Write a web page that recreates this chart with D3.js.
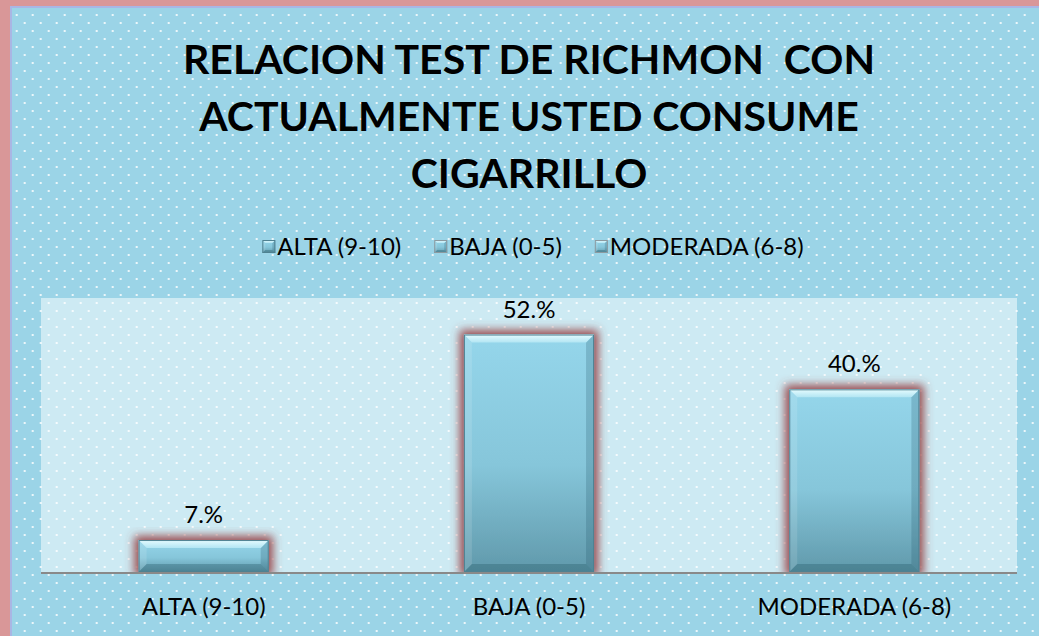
<!DOCTYPE html>
<html>
<head>
<meta charset="utf-8">
<script src="https://cdn.jsdelivr.net/npm/d3@7"></script>
<style>
  html, body { margin: 0; padding: 0; background: #fff; }
  svg { display: block; }
  text { font-family: Lato, "Open Sans", sans-serif; }
</style>
</head>
<body>
<div id="chart"></div>
<script>
// Data
const categories = ["ALTA (9-10)", "BAJA (0-5)", "MODERADA (6-8)"];
const values = [7, 52, 40];
const titleLines = ["RELACION TEST DE RICHMON  CON", "ACTUALMENTE USTED CONSUME", "CIGARRILLO"];
const yDomain = [0, 60];

const W = 1039, H = 636;
const svg = d3.select("#chart").append("svg").attr("width", W).attr("height", H);
const defs = svg.append("defs");

// Dotted background pattern
const pat = defs.append("pattern").attr("id", "dots")
  .attr("patternUnits", "userSpaceOnUse").attr("width", 16).attr("height", 16)
  .attr("x", 12.7).attr("y", 11);
pat.append("rect").attr("width", 16).attr("height", 16).attr("fill", "#9bd4e7");
pat.append("circle").attr("cx", 4).attr("cy", 4).attr("r", 1.1).attr("fill", "#ffffff");
pat.append("circle").attr("cx", 12).attr("cy", 12).attr("r", 1.1).attr("fill", "#ffffff");

// Bar body gradient
const g1 = defs.append("linearGradient").attr("id", "barFill").attr("x1", 0).attr("y1", 0).attr("x2", 0).attr("y2", 1);
g1.append("stop").attr("offset", "0%").attr("stop-color", "#95d6eb");
g1.append("stop").attr("offset", "55%").attr("stop-color", "#86c6da");
g1.append("stop").attr("offset", "100%").attr("stop-color", "#6099ab");

const gTop = defs.append("linearGradient").attr("id", "bevelTop").attr("x1", 0).attr("y1", 0).attr("x2", 0).attr("y2", 1);
gTop.append("stop").attr("offset", "0%").attr("stop-color", "#e6fcff");
gTop.append("stop").attr("offset", "100%").attr("stop-color", "#b2e5f3");

// Reddish glow around bars
const glow = defs.append("filter").attr("id", "glow")
  .attr("x", "-40%").attr("y", "-40%").attr("width", "180%").attr("height", "180%");
glow.append("feMorphology").attr("in", "SourceAlpha").attr("operator", "dilate").attr("radius", 4).attr("result", "dil");
glow.append("feGaussianBlur").attr("in", "dil").attr("stdDeviation", 5).attr("result", "blur");
glow.append("feFlood").attr("flood-color", "#984244").attr("flood-opacity", 0.95);
glow.append("feComposite").attr("in2", "blur").attr("operator", "in").attr("result", "shadow");
const merge = glow.append("feMerge");
merge.append("feMergeNode").attr("in", "shadow");
merge.append("feMergeNode").attr("in", "SourceGraphic");

// Frame
svg.append("rect").attr("width", W).attr("height", H).attr("fill", "#d99798");
svg.append("rect").attr("x", 10).attr("y", 6).attr("width", W - 10).attr("height", H - 6).attr("fill", "#a9b6e4");
svg.append("rect").attr("x", 12).attr("y", 8).attr("width", W - 12).attr("height", H - 8).attr("fill", "url(#dots)");

// Title
const title = svg.append("text").attr("text-anchor", "middle")
  .attr("font-weight", "bold").attr("font-size", 41).attr("fill", "#000")
  .style("white-space", "pre");
title.selectAll("tspan").data(titleLines).join("tspan")
  .attr("x", 529).attr("y", (d, i) => 74 + i * 57).text(d => d);

// Plot area
const plot = { left: 41, right: 1017, top: 298, bottom: 572 };
svg.append("rect").attr("x", plot.left).attr("y", plot.top)
  .attr("width", plot.right - plot.left).attr("height", plot.bottom - plot.top)
  .attr("fill", "#ffffff").attr("fill-opacity", 0.5);

const x = d3.scaleBand().domain(categories).range([plot.left, plot.right])
  .paddingInner(0.6).paddingOuter(0.3);
const y = d3.scaleLinear().domain(yDomain).range([plot.bottom, plot.top]);

defs.append("clipPath").attr("id", "plotClip").append("rect")
  .attr("x", plot.left).attr("y", plot.top - 20)
  .attr("width", plot.right - plot.left).attr("height", plot.bottom - plot.top + 20);

// Bevelled bar
function bevelBar(g, x0, y0, w, h, b, stroke) {
  const x1 = x0 + w, y1 = y0 + h;
  const bb = Math.min(b, h / 2);
  g.append("rect").attr("x", x0).attr("y", y0).attr("width", w).attr("height", h)
    .attr("fill", "url(#barFill)");
  // left
  g.append("path").attr("d", `M${x0},${y0}L${x0 + bb},${y0 + bb}L${x0 + bb},${y1 - bb}L${x0},${y1}Z`)
    .attr("fill", "#ffffff").attr("fill-opacity", 0.12);
  // right
  g.append("path").attr("d", `M${x1},${y0}L${x1 - bb},${y0 + bb}L${x1 - bb},${y1 - bb}L${x1},${y1}Z`)
    .attr("fill", "#1d4e5e").attr("fill-opacity", 0.22);
  // bottom
  g.append("path").attr("d", `M${x0},${y1}L${x0 + bb},${y1 - bb}L${x1 - bb},${y1 - bb}L${x1},${y1}Z`)
    .attr("fill", "#1d4e5e").attr("fill-opacity", 0.3);
  // top
  g.append("path").attr("d", `M${x0},${y0}L${x1},${y0}L${x1 - bb},${y0 + bb}L${x0 + bb},${y0 + bb}Z`)
    .attr("fill", "url(#bevelTop)");
  g.append("rect").attr("x", x0 + 0.5).attr("y", y0 + 0.5).attr("width", w - 1).attr("height", h - 1)
    .attr("fill", "none").attr("stroke", stroke || "#4f8191").attr("stroke-width", 1);
}

const barsG = svg.append("g").attr("clip-path", "url(#plotClip)");
categories.forEach((c, i) => {
  const g = barsG.append("g").attr("filter", "url(#glow)");
  bevelBar(g, x(c), y(values[i]), x.bandwidth(), y(0) - y(values[i]), 8);
});

// Baseline
svg.append("line").attr("x1", plot.left).attr("x2", plot.right)
  .attr("y1", plot.bottom + 1).attr("y2", plot.bottom + 1)
  .attr("stroke", "#898989").attr("stroke-width", 2);

// Value labels
svg.append("g").selectAll("text").data(categories).join("text")
  .attr("x", d => x(d) + x.bandwidth() / 2)
  .attr("y", (d, i) => y(values[i]) - 17)
  .attr("text-anchor", "middle").attr("font-size", 24).attr("fill", "#000")
  .text((d, i) => `${values[i]}.%`);

// Category axis
const xAxis = svg.append("g").attr("transform", `translate(0,${plot.bottom + 1})`)
  .call(d3.axisBottom(x).tickSize(0));
xAxis.select(".domain").remove();
xAxis.selectAll("text").attr("font-size", 24).attr("fill", "#000")
  .attr("y", 42).attr("dy", null)
  .attr("font-family", "Lato, 'Open Sans', sans-serif");

// Legend
const legend = svg.append("g");
const items = legend.selectAll("g").data(categories).join("g");
items.each(function (d, i) {
  const g = d3.select(this);
  bevelBar(g, 0, -7, 13, 13, 3, i === 0 ? "#4f8191" : "#8c9aa0");
  g.append("text").attr("x", 15).attr("y", 8).attr("font-size", 24).attr("fill", "#000").text(d);
});
let cx = 0;
const widths = [];
items.each(function () { widths.push(this.getBBox().width); });
const gap = 33;
const total = d3.sum(widths) + gap * (widths.length - 1);
cx = 533 - total / 2;
items.attr("transform", (d, i) => {
  const tx = cx; cx += widths[i] + gap;
  return `translate(${tx},247)`;
});
</script>
</body>
</html>
